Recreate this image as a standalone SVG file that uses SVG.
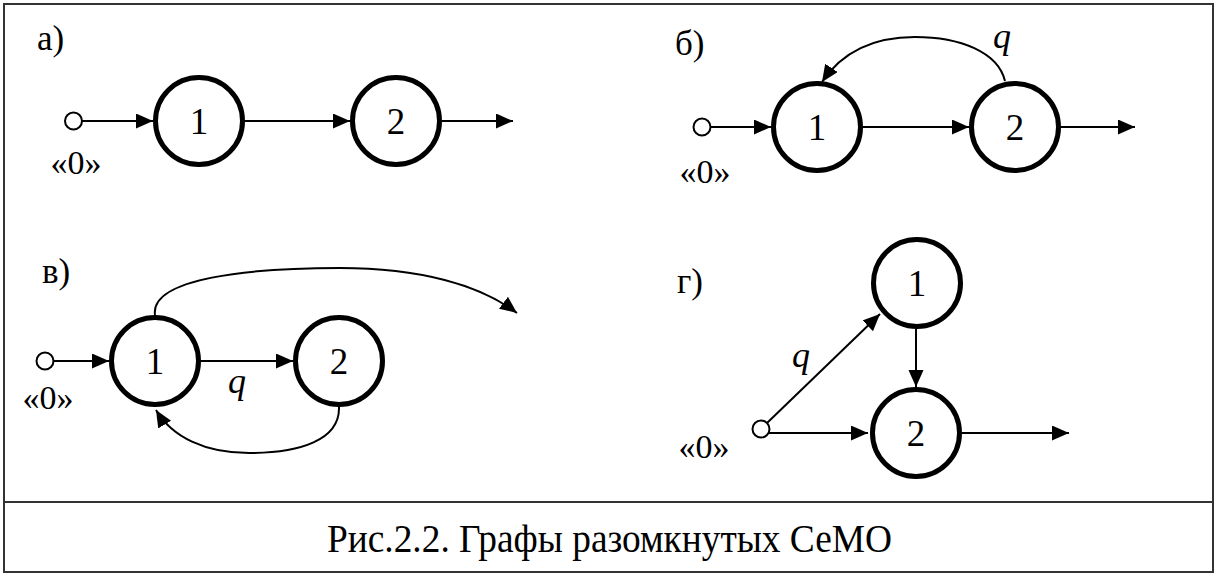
<svg xmlns="http://www.w3.org/2000/svg" width="1217" height="576" viewBox="0 0 1217 576">
  <style>
    .frame { fill: none; stroke: #333; stroke-width: 2; }
    .node { fill: #fff; stroke: #000; stroke-width: 5; }
    .src { fill: #fff; stroke: #000; stroke-width: 2; }
    .edge { fill: none; stroke: #000; stroke-width: 2; marker-end: url(#arr); }
    .t { font-family: "Liberation Serif", "Times New Roman", Times, serif; fill: #000; }
    .num { font-size: 37px; text-anchor: middle; }
    .lbl { font-size: 35px; }
    .zero { font-size: 34px; text-anchor: middle; }
    .q { font-size: 36px; font-style: italic; text-anchor: middle; }
    .cap { font-size: 39px; }
  </style>
  <defs>
    <marker id="arr" markerUnits="userSpaceOnUse" markerWidth="18" markerHeight="16" refX="17" refY="7.5" orient="auto">
      <path d="M0,0 L17,7.5 L0,15 Z" fill="#000"/>
    </marker>
  </defs>
  <rect x="0" y="0" width="1217" height="576" fill="#fff"/>
  <rect class="frame" x="4" y="4" width="1209" height="568"/>
  <line class="frame" x1="4" y1="502" x2="1213" y2="502"/>

  <g id="connectors">
    <path class="edge" d="M82,121 H153"/>
    <path class="edge" d="M245,121 H350"/>
    <path class="edge" d="M442,121 H513"/>
    <path class="edge" d="M711,127 H771"/>
    <path class="edge" d="M863,127 H969"/>
    <path class="edge" d="M1061,127 H1135"/>
    <path class="edge" d="M1005,81 C998,52 960,37 915,37 C870,37 840,55 822,82"/>
    <path class="edge" d="M54,361 H109"/>
    <path class="edge" d="M201,361 H293"/>
    <path class="edge" d="M155,315 C150,278 250,268 340,268 C420,268 480,285 517,313"/>
    <path class="edge" d="M339,407 C340,440 300,453 249,453 C205,453 172,437 156,410"/>
    <path class="edge" d="M769,433 H868"/>
    <path class="edge" d="M767,423 L880,314"/>
    <path class="edge" d="M916,329 V387"/>
    <path class="edge" d="M962,433 H1069"/>
  </g>

  <text class="t lbl" x="37" y="50">а)</text>
  <g id="a-src"><circle class="src" cx="73.5" cy="121" r="8.5"/><text class="t zero" x="76" y="174">«0»</text></g>
  <g id="a-n1"><circle class="node" cx="199" cy="121" r="43.5"/><text class="t num" x="199" y="134">1</text></g>
  <g id="a-n2"><circle class="node" cx="396" cy="121" r="43.5"/><text class="t num" x="396" y="134">2</text></g>

  <text class="t lbl" x="675" y="55">б)</text>
  <text class="t q" x="1002" y="48">q</text>
  <g id="b-src"><circle class="src" cx="702" cy="127" r="8.5"/><text class="t zero" x="705" y="183">«0»</text></g>
  <g id="b-n1"><circle class="node" cx="817" cy="127" r="43.5"/><text class="t num" x="817" y="140">1</text></g>
  <g id="b-n2"><circle class="node" cx="1015" cy="127" r="43.5"/><text class="t num" x="1015" y="140">2</text></g>

  <text class="t lbl" x="42" y="283">в)</text>
  <text class="t q" x="237" y="393">q</text>
  <g id="v-src"><circle class="src" cx="45" cy="361" r="8.5"/><text class="t zero" x="48" y="409">«0»</text></g>
  <g id="v-n1"><circle class="node" cx="155" cy="361" r="43.5"/><text class="t num" x="155" y="374">1</text></g>
  <g id="v-n2"><circle class="node" cx="339" cy="361" r="43.5"/><text class="t num" x="339" y="374">2</text></g>

  <text class="t lbl" x="677" y="293">г)</text>
  <text class="t q" x="801" y="367">q</text>
  <g id="g-src"><circle class="src" cx="761" cy="429" r="8.5"/><text class="t zero" x="704" y="458">«0»</text></g>
  <g id="g-n1"><circle class="node" cx="917" cy="283" r="43.5"/><text class="t num" x="917" y="296">1</text></g>
  <g id="g-n2"><circle class="node" cx="916" cy="433" r="43.5"/><text class="t num" x="916" y="446">2</text></g>

  <text class="t cap" x="327" y="552" textLength="565" lengthAdjust="spacingAndGlyphs">Рис.2.2. Графы разомкнутых СеМО</text>
</svg>
